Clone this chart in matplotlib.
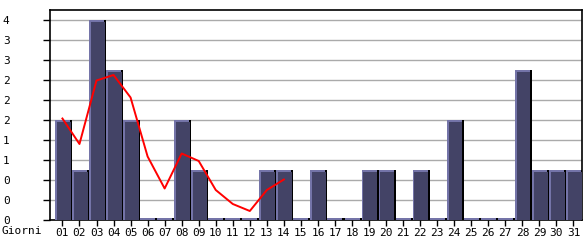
import matplotlib
matplotlib.use("Agg")
import matplotlib.pyplot as plt
import numpy as np

# daily counts
days = ["%02d" % d for d in range(1, 32)]
visits = [2, 1, 4, 3, 2, 0, 0, 2, 1, 0, 0, 0, 1, 1, 0, 1, 0, 0, 1, 1,
          0, 1, 0, 2, 0, 0, 0, 3, 1, 1, 1]
# red trend line (first 14 days)
trend = [2.03, 1.52, 2.79, 2.9, 2.45, 1.27, 0.63, 1.33, 1.18, 0.6,
         0.32, 0.18, 0.6, 0.81]
y_ticks = [0, 0.4, 0.8, 1.2, 1.6, 2.0, 2.4, 2.8, 3.2, 3.6, 4.0]

fig = plt.figure(figsize=(5.85, 2.4), dpi=100)
ax = fig.add_axes([50 / 585, 20 / 240, 532 / 585, 210 / 240])

x = np.arange(1, 32)
w = 0.88
h = np.array(visits, dtype=float)
h_draw = np.where(h == 0, 0.04, h)

# shadow, light edge, main fill
ax.bar(x + 0.12, h_draw, width=w, color="black", zorder=2)
ax.bar(x, h_draw, width=w, color="#7474a8", zorder=3)
ax.bar(x + 0.07, np.where(h == 0, 0, h_draw - 0.03), width=w - 0.07,
       color="#434366", zorder=4)

ax.plot(x[:len(trend)], trend, color="#ff0000", lw=1.4, zorder=5)

ax.set_xlim(0.27, 31.5)
ax.set_ylim(0, 4.2)
ax.set_yticks(y_ticks)
ax.set_yticklabels([str(int(np.floor(v + 1e-9))) for v in y_ticks])
ax.set_xticks(x)
ax.set_xticklabels(days)
ax.grid(axis="y", color="#aaaaaa", lw=1, zorder=0)
ax.set_axisbelow(True)

for s in ax.spines.values():
    s.set_color("black")
    s.set_linewidth(1.2)

ax.tick_params(axis="y", length=5, width=1, pad=29, labelsize=8)
ax.tick_params(axis="x", length=4, width=1, pad=2, labelsize=8)
for lab in ax.get_yticklabels():
    lab.set_horizontalalignment("left")
    lab.set_family("DejaVu Sans Mono")
for lab in ax.get_xticklabels():
    lab.set_family("DejaVu Sans Mono")

fig.text(2 / 585, 1 - 231 / 240, "Giorni", family="DejaVu Sans Mono",
         fontsize=8, va="center", ha="left")

fig.savefig("out.png", dpi=100)
